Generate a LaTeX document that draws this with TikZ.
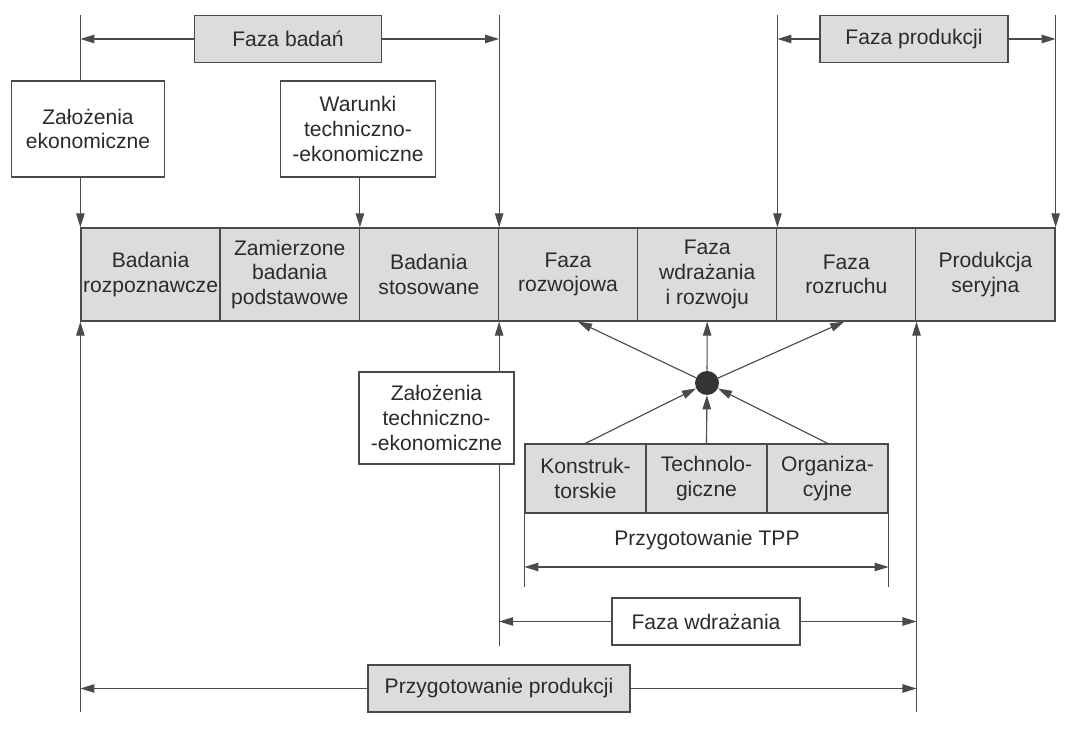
\documentclass[tikz,border=0pt]{standalone}
\usepackage{fontspec}
\setmainfont{Liberation Sans}
\usetikzlibrary{arrows.meta}
\definecolor{boxgray}{HTML}{DCDCDC}
\definecolor{linegray}{HTML}{4A4A4A}
\definecolor{textgray}{HTML}{2B2B2B}

\begin{document}
\begin{tikzpicture}[x=0.025cm, y=-0.025cm,
    every node/.style={font=\fontsize{15}{17.5}\selectfont, text=textgray, align=center, inner sep=0pt},
    phase/.style={draw=linegray, line width=0.9pt, fill=boxgray, minimum height=1.175cm},
    note/.style={draw=linegray, line width=0.9pt, fill=white},
    cell/.style={draw=linegray, line width=0.9pt, fill=boxgray, minimum width=3.4785cm, minimum height=2.325cm},
    tppcell/.style={draw=linegray, line width=0.9pt, fill=boxgray, minimum width=3.025cm, minimum height=1.725cm},
    link/.style={draw=linegray, line width=0.8pt},
    arr/.style={link, -{Triangle[length=10pt,width=6pt]}},
    both/.style={link, {Triangle[length=10pt,width=6pt]}-{Triangle[length=10pt,width=6pt]}}
  ]
        \useasboundingbox (0,0) rectangle (1067,740);

        \coordinate (top) at (0,15);
        \coordinate (bot) at (0,712);
        \coordinate (tppbot) at (0,587);
        \coordinate (tpparr) at (0,567);

        \node[phase, minimum width=4.675cm] (badan) at (288,39) {Faza badań};
        \node[phase, minimum width=4.7cm] (produkcji) at (914,39) {Faza produkcji};
        \node[note, minimum width=3.825cm, minimum height=2.4cm] (zalEk) at (88,129) {Założenia\\ekonomiczne};
        \node[note, minimum width=3.875cm, minimum height=2.4cm] (warunki) at (358,129) {Warunki\\techniczno-\\-ekonomiczne};

        \node[cell] (c1) at (150.6,274.5) {Badania\\rozpoznawcze};
        \node[cell] (c2) at (289.7,274.5) {Zamierzone\\badania\\podstawowe};
        \node[cell] (c3) at (428.9,274.5) {Badania\\stosowane};
        \node[cell] (c4) at (568.0,274.5) {Faza\\rozwojowa};
        \node[cell] (c5) at (707.2,274.5) {Faza\\wdrażania\\i rozwoju};
        \node[cell] (c6) at (846.3,274.5) {Faza\\rozruchu};
        \node[cell] (c7) at (985.4,274.5) {Produkcja\\seryjna};

        \node[note, minimum width=3.875cm, minimum height=2.3cm] (zalTech) at (436.5,418) {Założenia\\techniczno-\\-ekonomiczne};
        \node[circle, fill=linegray!70!black, minimum size=0.6cm] (hub) at (707,383) {};

        \node[tppcell] (k) at (585.5,478.5) {Konstruk-\\torskie};
        \node[tppcell] (t) at (706.5,478.5) {Technolo-\\giczne};
        \node[tppcell] (o) at (827.5,478.5) {Organiza-\\cyjne};
        \node (tpp) at (707,540) {Przygotowanie TPP};

        \node[note, minimum width=4.7cm, minimum height=1.175cm] (wdr) at (706,621.5) {Faza wdrażania};
        \node[phase, minimum width=6.55cm] (prod) at (499,688.5) {Przygotowanie produkcji};

        \draw[link] (c1.north west |- top) -- (c1.north west |- zalEk.north);
        \draw[arr] (c1.north west |- zalEk.south) -- (c1.north west);
        \draw[arr] (warunki.south -| c2.north east) -- (c2.north east);
        \draw[arr] (c3.north east |- top) -- (c3.north east);
        \draw[arr] (c5.north east |- top) -- (c5.north east);
        \draw[arr] (c7.north east |- top) -- (c7.north east);

        \draw[arr] (badan.west) -- (badan.west -| c1.north west);
        \draw[arr] (badan.east) -- (badan.east -| c3.north east);
        \draw[arr] (produkcji.west) -- (produkcji.west -| c5.north east);
        \draw[arr] (produkcji.east) -- (produkcji.east -| c7.north east);

        \draw[arr] (c1.south west |- bot) -- (c1.south west);
        \draw[arr] (c6.south east |- bot) -- (c6.south east);
        \draw[arr] (zalTech.north -| c3.south east) -- (c3.south east);
        \draw[link] (zalTech.south -| c3.south east) -- (c3.south east |- wdr.south);

        \draw[arr] (hub) -- ([xshift=0.25cm]c4.south);
        \draw[arr] (hub) -- (c5.south);
        \draw[arr] (hub) -- ([xshift=-0.05cm]c6.south);
        \draw[arr] (k.north) -- (hub);
        \draw[arr] (t.north) -- (hub);
        \draw[arr] (o.north) -- (hub);

        \draw[link] (k.south west) -- (k.south west |- tppbot);
        \draw[link] (o.south east) -- (o.south east |- tppbot);
        \draw[both] (tpparr -| k.south west) -- (tpparr -| o.south east);

        \draw[arr] (wdr.west) -- (wdr.west -| c3.south east);
        \draw[arr] (wdr.east) -- (wdr.east -| c6.south east);
        \draw[arr] (prod.west) -- (prod.west -| c1.south west);
        \draw[arr] (prod.east) -- (prod.east -| c6.south east);

    \end{tikzpicture}
\end{document}
